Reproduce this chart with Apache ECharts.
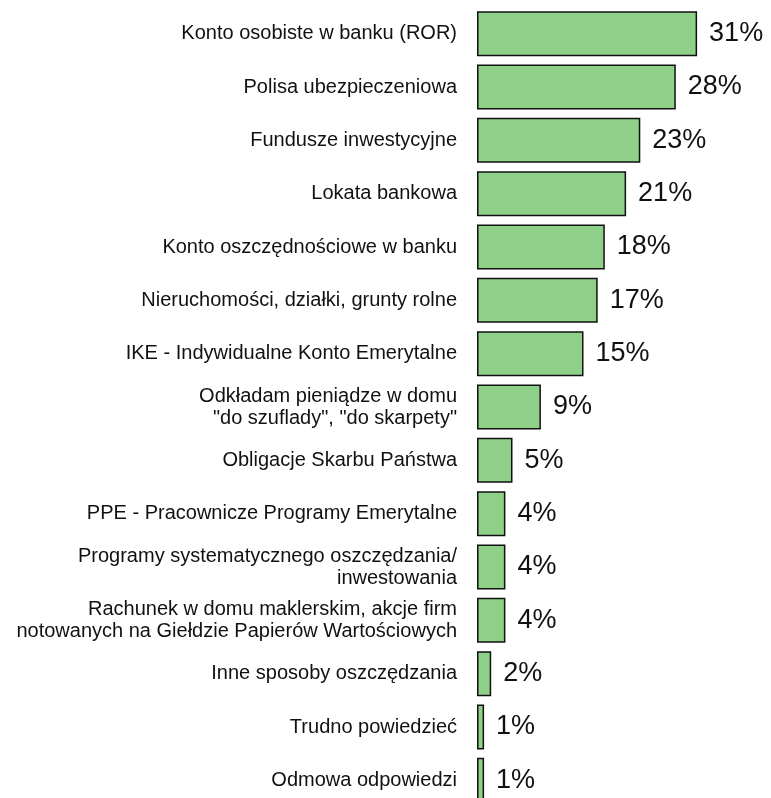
<!DOCTYPE html>
<html>
<head>
<meta charset="utf-8">
<script src="https://cdn.jsdelivr.net/npm/echarts@6/dist/echarts.min.js"></script>
<style>
  html, body { margin: 0; padding: 0; background: #fff; }
  #chart { width: 771px; height: 798px; }
</style>
</head>
<body>
<div id="chart"></div>
<script>
// kategorie i wartości (%)
const categories = [
  'Konto osobiste w banku (ROR)',
  'Polisa ubezpieczeniowa',
  'Fundusze inwestycyjne',
  'Lokata bankowa',
  'Konto oszczędnościowe w banku',
  'Nieruchomości, działki, grunty rolne',
  'IKE - Indywidualne Konto Emerytalne',
  'Odkładam pieniądze w domu\n"do szuflady", "do skarpety"',
  'Obligacje Skarbu Państwa',
  'PPE - Pracownicze Programy Emerytalne',
  'Programy systematycznego oszczędzania/\ninwestowania',
  'Rachunek w domu maklerskim, akcje firm\nnotowanych na Giełdzie Papierów Wartościowych',
  'Inne sposoby oszczędzania',
  'Trudno powiedzieć',
  'Odmowa odpowiedzi'
];
const values = [31, 28, 23, 21, 18, 17, 15, 9, 5, 4, 4, 4, 2, 1, 1];

const chart = echarts.init(document.getElementById('chart'));
const option = {
  animation: false,
  textStyle: { fontFamily: 'Liberation Sans, Arial, sans-serif' },
  grid: {
    left: 477,
    top: 7,
    height: 800,
    width: 284,
    containLabel: false,
    outerBoundsMode: 'none' // ostatni słupek wychodzi poza dolną krawędź
  },
  xAxis: {
    type: 'value',
    min: 0,
    max: 40,
    show: false,
    splitLine: { show: false }
  },
  yAxis: {
    type: 'category',
    data: categories,
    inverse: true,
    axisLine: { show: false },
    axisTick: { show: false },
    axisLabel: {
      margin: 20,
      fontSize: 20,
      lineHeight: 22,
      color: '#111',
      align: 'right'
    }
  },
  series: [
    {
      type: 'bar',
      data: values,
      barWidth: 45,
      itemStyle: {
        color: '#8ed088',
        borderColor: '#111',
        borderWidth: 1.5
      },
      label: {
        show: true,
        position: 'right',
        distance: 12,
        fontSize: 27,
        color: '#111',
        formatter: '{c}%'
      }
    }
  ]
};
chart.setOption(option);
</script>
</body>
</html>
